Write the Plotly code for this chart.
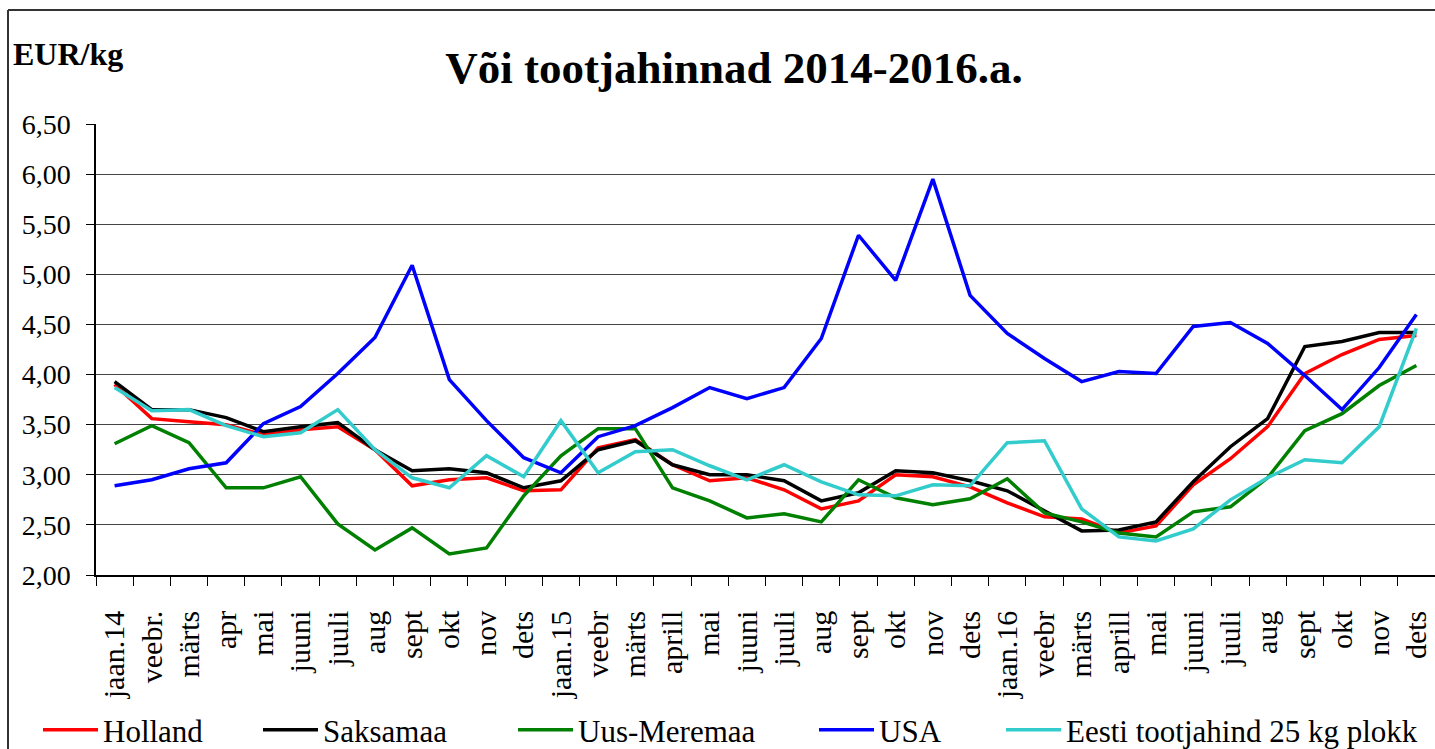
import plotly.graph_objects as go

# kuud (x-telje sildid)
kuud = ['jaan.14', 'veebr.', 'märts', 'apr', 'mai', 'juuni', 'juuli', 'aug', 'sept', 'okt', 'nov', 'dets',
        'jaan.15', 'veebr', 'märts', 'aprill', 'mai', 'juuni', 'juuli', 'aug', 'sept', 'okt', 'nov', 'dets',
        'jaan.16', 'veebr', 'märts', 'aprill', 'mai', 'juuni', 'juuli', 'aug', 'sept', 'okt', 'nov', 'dets']

# hinnad EUR/kg
holland = [3.90, 3.56, 3.53, 3.50, 3.40, 3.45, 3.48, 3.25, 2.89, 2.95, 2.97, 2.84,
           2.85, 3.27, 3.35, 3.10, 2.94, 2.97, 2.85, 2.66, 2.74, 3.00, 2.98, 2.88,
           2.72, 2.58, 2.56, 2.42, 2.49, 2.90, 3.16, 3.48, 4.01, 4.20, 4.35, 4.39]
saksamaa = [3.93, 3.65, 3.65, 3.57, 3.43, 3.48, 3.52, 3.25, 3.04, 3.06, 3.02, 2.87,
            2.94, 3.25, 3.34, 3.10, 3.00, 3.00, 2.94, 2.74, 2.82, 3.04, 3.02, 2.94,
            2.84, 2.64, 2.44, 2.45, 2.53, 2.93, 3.28, 3.56, 4.28, 4.33, 4.42, 4.42]
uus_meremaa = [3.31, 3.49, 3.32, 2.87, 2.87, 2.98, 2.51, 2.25, 2.47, 2.21, 2.27, 2.79,
               3.19, 3.46, 3.46, 2.87, 2.74, 2.57, 2.61, 2.53, 2.95, 2.77, 2.70, 2.76,
               2.96, 2.62, 2.53, 2.42, 2.38, 2.63, 2.68, 2.97, 3.44, 3.61, 3.89, 4.09]
usa = [2.89, 2.95, 3.06, 3.12, 3.51, 3.68, 4.01, 4.37, 5.09, 3.95, 3.54, 3.17,
       3.02, 3.38, 3.49, 3.67, 3.87, 3.76, 3.87, 4.36, 5.39, 4.94, 5.95, 4.79,
       4.41, 4.16, 3.93, 4.03, 4.01, 4.48, 4.52, 4.31, 3.99, 3.65, 4.07, 4.60]
eesti = [3.87, 3.64, 3.65, 3.49, 3.38, 3.42, 3.65, 3.25, 2.97, 2.87, 3.19, 2.98,
         3.54, 3.02, 3.23, 3.25, 3.09, 2.95, 3.10, 2.93, 2.80, 2.79, 2.90, 2.89,
         3.32, 3.34, 2.66, 2.38, 2.34, 2.46, 2.75, 2.97, 3.15, 3.12, 3.48, 4.46]

seeriad = [('Holland', holland, '#FF0000'),
           ('Saksamaa', saksamaa, '#000000'),
           ('Uus-Meremaa', uus_meremaa, '#008000'),
           ('USA', usa, '#0000FF'),
           ('Eesti tootjahind 25 kg plokk', eesti, '#33CCCC')]

FONT = 'Liberation Serif, Tinos, Times New Roman, DejaVu Serif, serif'
W, H = 1435, 749
L, T, B = 96, 124, 575  # joonise ala piirid pikslites


def px_x(px):
    return (px - L) / (W - L)


def px_y(py):
    return (B - py) / (B - T)


x = list(range(len(kuud)))
fig = go.Figure()

legendi_x = [38, 258, 513, 814, 1001]
for k, (nimi, y, varv) in enumerate(seeriad):
    leg = 'legend' if k == 0 else f'legend{k+1}'
    fig.add_trace(go.Scatter(x=x, y=y, name=nimi, mode='lines',
                             line=dict(color=varv, width=3.5), legend=leg))
    fig.update_layout({leg: dict(x=px_x(legendi_x[k]), y=px_y(730), xanchor='left', yanchor='middle',
                                 orientation='h', bgcolor='rgba(0,0,0,0)', itemwidth=55,
                                 font=dict(family=FONT, size=31, color='black'))})

fig.update_layout(
    width=W, height=H,
    showlegend=True,
    margin=dict(l=L, r=0, t=T, b=H - B, autoexpand=False),
    paper_bgcolor='white', plot_bgcolor='white',
    separators=',.',
    font=dict(family=FONT, color='black'),
    title=dict(text='<b>Või tootjahinnad 2014-2016.a.</b>', x=734 / W, y=1 - 67 / H,
               xanchor='center', yanchor='middle', font=dict(family=FONT, size=45, color='black')),
    xaxis=dict(range=[-0.5, 35.5], tickmode='array', tickvals=x, ticktext=kuud, tickangle=-90,
               ticks='', showgrid=False, zeroline=False, showline=True, linecolor='black', linewidth=1.5,
               tickfont=dict(family=FONT, size=30, color='black'), ticklabelstandoff=22,
               ticklabeloverflow='allow',
               minor=dict(tickmode='array', tickvals=[i - 0.5 for i in range(len(kuud) + 1)],
                          ticks='outside', ticklen=9, tickcolor='black', tickwidth=1, showgrid=False)),
    yaxis=dict(range=[2, 6.5], dtick=0.5, tick0=2, tickformat='.2f', showgrid=True, gridcolor='#444',
               gridwidth=1, zeroline=False, showline=True, linecolor='black', linewidth=1.5,
               ticks='outside', ticklen=8, tickcolor='black',
               tickfont=dict(family=FONT, size=28, color='black'), ticklabelstandoff=10),
)

fig.add_annotation(text='<b>EUR/kg</b>', xref='paper', yref='paper', x=px_x(11), y=px_y(54),
                   xanchor='left', yanchor='middle', showarrow=False,
                   font=dict(family=FONT, size=32, color='black'))

# välimine raam (ülemine ja vasak serv)
fig.add_shape(type='line', xref='paper', yref='paper', x0=px_x(8), x1=1.0, y0=px_y(10), y1=px_y(10),
              line=dict(color='#333', width=2))
fig.add_shape(type='line', xref='paper', yref='paper', x0=px_x(8), x1=px_x(8), y0=px_y(10), y1=px_y(H + 5),
              line=dict(color='#333', width=2))

fig.write_html('out.html', config={'displayModeBar': False},
               post_script="document.body.style.margin='0px';")
